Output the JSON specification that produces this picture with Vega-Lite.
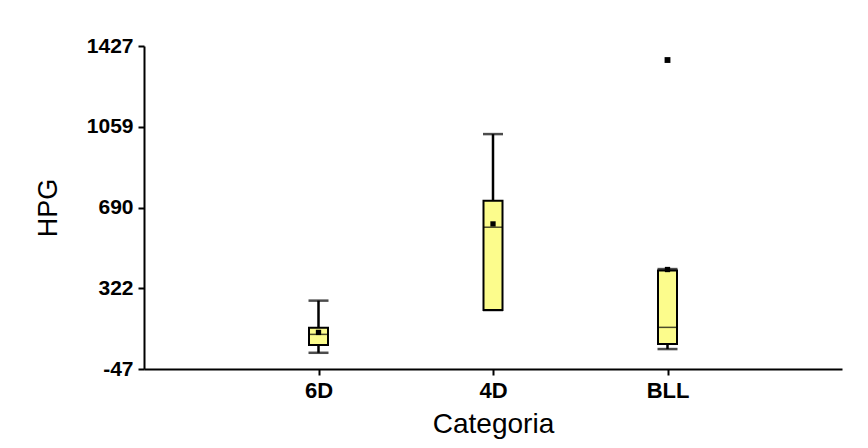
{
  "$schema": "https://vega.github.io/schema/vega-lite/v6.json",
  "autosize": {"type": "none"},
  "padding": {"left": 144, "top": 46, "right": 26, "bottom": 79},
  "width": 698,
  "height": 323,
  "background": "white",
  "config": {
    "view": {"stroke": null},
    "font": "Liberation Sans",
    "axis": {"grid": false, "domainColor": "black", "domainWidth": 2, "tickColor": "black", "tickWidth": 2, "tickSize": 6, "labelColor": "black", "labelFontWeight": "bold", "labelFont": "Liberation Sans", "titleFont": "Liberation Sans", "titleColor": "black", "titleFontWeight": "normal"}
  },
  "datasets": {
    "boxes": [
      {"Categoria": "6D", "lo": 27, "q1": 62, "med": 111, "q3": 141, "hi": 265, "mean": 120},
      {"Categoria": "4D", "lo": 222, "q1": 222, "med": 600, "q3": 721, "hi": 1025, "mean": 615},
      {"Categoria": "BLL", "lo": 44, "q1": 67, "med": 143, "q3": 402, "hi": 409, "mean": 407}
    ],
    "outliers": [
      {"Categoria": "BLL", "HPG": 1363}
    ]
  },
  "encoding": {
    "x": {"field": "Categoria", "type": "nominal", "sort": ["6D", "4D", "BLL"],
      "scale": {"type": "point", "padding": 1, "domain": ["6D", "4D", "BLL"]},
      "axis": {"title": "Categoria", "labelAngle": 0, "labelFontSize": 22, "labelPadding": 5, "titleFontSize": 28, "titlePadding": 9}}
  },
  "layer": [
    {
      "data": {"name": "boxes"},
      "mark": {"type": "rule", "color": "black", "strokeWidth": 2.5},
      "encoding": {
        "y": {"field": "lo", "type": "quantitative",
          "scale": {"domain": [-47, 1427], "nice": false, "zero": false},
          "axis": {"title": "HPG", "values": [-47, 322, 690, 1059, 1427], "labelExpr": "'' + datum.value", "labelFontSize": 21, "labelPadding": 5, "titleFontSize": 27, "titlePadding": 24}},
        "y2": {"field": "hi"}
      }
    },
    {
      "data": {"name": "boxes"},
      "mark": {"type": "tick", "color": "black", "thickness": 2.5, "size": 20, "orient": "horizontal"},
      "encoding": {"y": {"field": "lo", "type": "quantitative"}}
    },
    {
      "data": {"name": "boxes"},
      "mark": {"type": "tick", "color": "black", "thickness": 2.5, "size": 20, "orient": "horizontal"},
      "encoding": {"y": {"field": "hi", "type": "quantitative"}}
    },
    {
      "data": {"name": "boxes"},
      "mark": {"type": "bar", "fill": "#fcfc8c", "stroke": "black", "strokeWidth": 2, "size": 19},
      "encoding": {"y": {"field": "q1", "type": "quantitative"}, "y2": {"field": "q3"}}
    },
    {
      "data": {"name": "boxes"},
      "mark": {"type": "tick", "color": "black", "thickness": 1.5, "size": 19, "orient": "horizontal"},
      "encoding": {"y": {"field": "med", "type": "quantitative"}}
    },
    {
      "data": {"name": "boxes"},
      "mark": {"type": "point", "shape": "square", "filled": true, "color": "black", "size": 28, "opacity": 1},
      "encoding": {"y": {"field": "mean", "type": "quantitative"}}
    },
    {
      "data": {"name": "outliers"},
      "mark": {"type": "point", "shape": "square", "filled": true, "color": "black", "size": 34, "opacity": 1},
      "encoding": {"y": {"field": "HPG", "type": "quantitative"}}
    }
  ]
}
